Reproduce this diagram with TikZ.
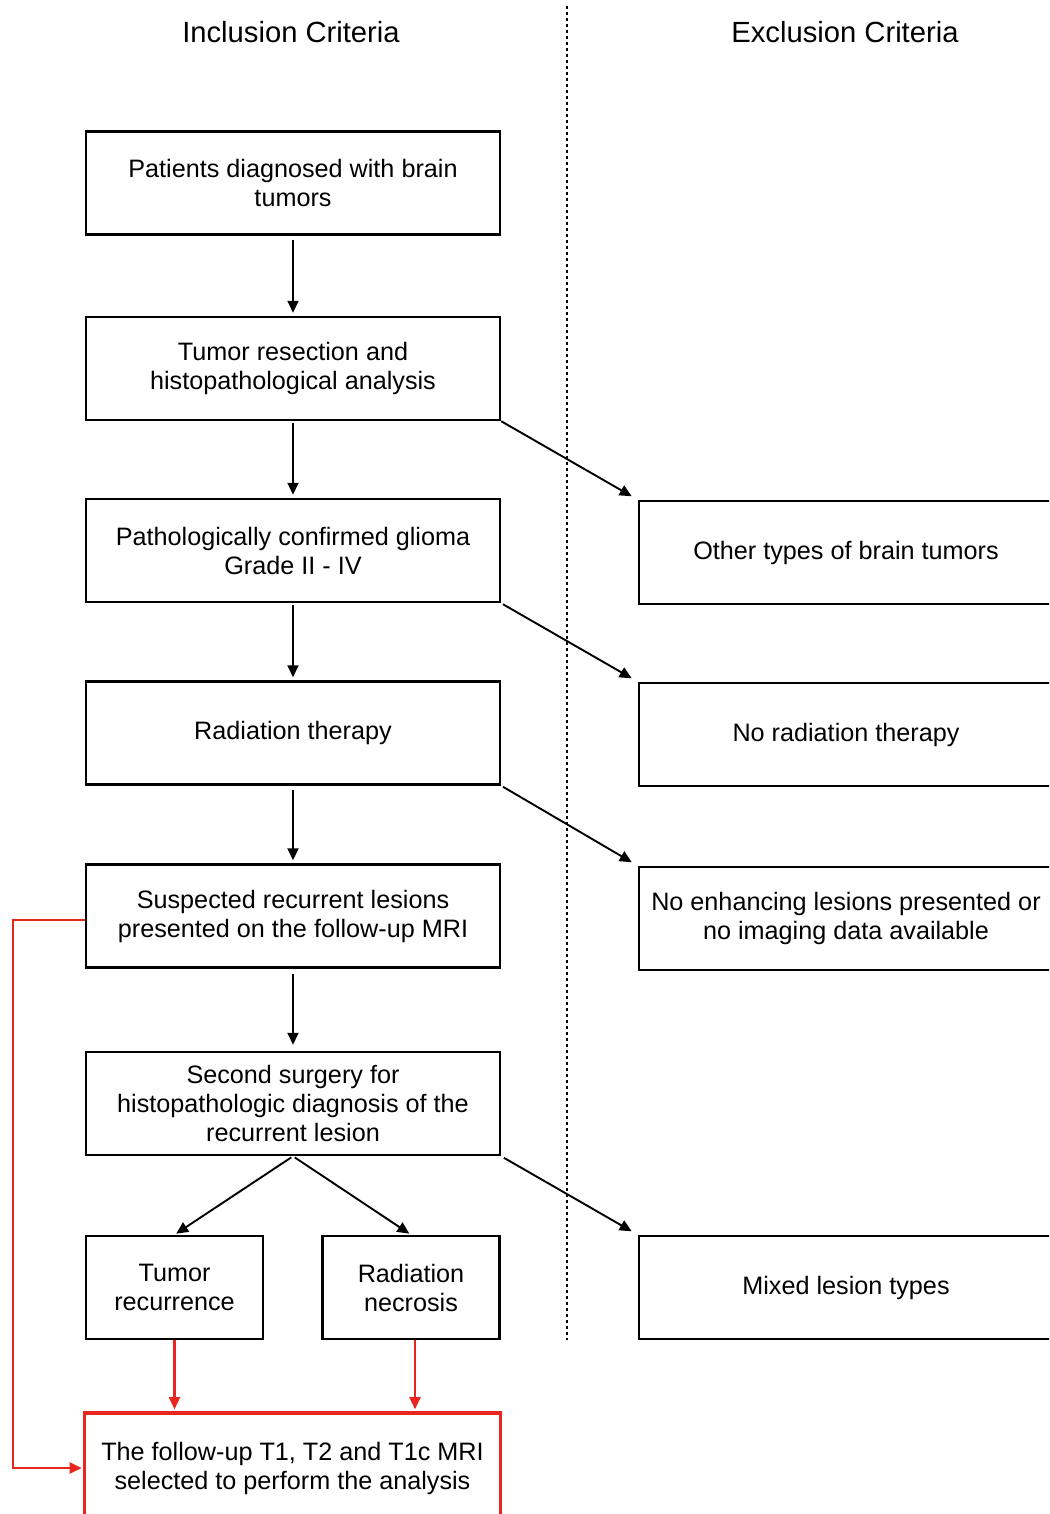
\documentclass[tikz,border=0pt]{standalone}
\usepackage{fontspec}
\setmainfont{Liberation Sans}
\usetikzlibrary{arrows.meta,positioning}
\definecolor{myred}{RGB}{232,38,32}
\tikzset{
  box/.style={draw=black, line width=2.5pt, rectangle, minimum width=414pt, minimum height=103pt, align=center, inner sep=0pt,
    font=\fontsize{25.2}{29}\selectfont},
  smallbox/.style={box, minimum width=177pt},
  redbox/.style={box, draw=myred, line width=3.6pt, minimum width=416pt, minimum height=110pt},
  title/.style={font=\fontsize{29.2}{33}\selectfont, inner sep=0pt},
  arr/.style={draw=black, line width=1.9pt, -{Triangle[length=12pt,width=11pt]}},
  redarr/.style={draw=myred, line width=2.2pt, -{Triangle[length=12pt,width=11pt]}},
  divider/.style={draw=black, line width=2.5pt, dash pattern=on 3pt off 3pt}
}
\begin{document}
\begin{tikzpicture}[x=1pt,y=-1pt]
\useasboundingbox (0,0) rectangle (1049,1514);
\clip (0,0) rectangle (1049,1514);
\fill[white] (0,0) rectangle (1049,1514);

% titles
\node[title] (tin) at (291,32) {Inclusion Criteria};
\node[title] (tex) at (845,32) {Exclusion Criteria};

% divider
\coordinate (dtop) at (567,6);
\coordinate (dbot) at (567,1340);
\draw[divider] (dtop) -- (dbot);

% inclusion boxes
\node[box] (b1) at (293,183) {Patients diagnosed with brain\\tumors};
\node[box] (b2) at (293,368.5) {Tumor resection and\\histopathological analysis};
\node[box] (b3) at (293,550.5) {Pathologically confirmed glioma\\Grade II - IV};
\node[box] (b4) at (293,733) {Radiation therapy};
\node[box] (b5) at (293,916) {Suspected recurrent lesions\\presented on the follow-up MRI};
\node[box] (b6) at (293,1103.5) {Second surgery for\\histopathologic diagnosis of the\\recurrent lesion};
\node[smallbox] (b7a) at (174.5,1287.5) {Tumor\\recurrence};
\node[smallbox] (b7b) at (411,1287.5) {Radiation\\necrosis};
\node[redbox] (res) at (292.5,1468) {The follow-up T1, T2 and T1c MRI\\selected to perform the analysis};

% exclusion boxes
\node[box] (r1) at (846,552.5) {Other types of brain tumors};
\node[box] (r2) at (846,734.5) {No radiation therapy};
\node[box] (r3) at (846,918.5) {No enhancing lesions presented or\\no imaging data available};
\node[box] (r4) at (846,1287.5) {Mixed lesion types};

% vertical arrows
\draw[arr, shorten <=4pt, shorten >=3pt] (b1.south) -- (b2.north);
\draw[arr, shorten <=2pt, shorten >=3pt] (b2.south) -- (b3.north);
\draw[arr, shorten <=2pt, shorten >=3pt] (b3.south) -- (b4.north);
\draw[arr, shorten <=4pt, shorten >=3pt] (b4.south) -- (b5.north);
\draw[arr, shorten <=5pt, shorten >=6pt] (b5.south) -- (b6.north);

% split arrows
\draw[arr, shorten <=2pt, shorten >=2pt] (b6.south) -- (b7a.north);
\draw[arr, shorten <=2pt, shorten >=2pt] (b6.south) -- (b7b.north);

% exclusion arrows
\draw[arr, shorten >=7pt] (b2.south east) -- (r1.north west);
\draw[arr, shorten <=2pt, shorten >=7pt] (b3.south east) -- (r2.north west);
\draw[arr, shorten <=2pt, shorten >=7pt] (b4.south east) -- (r3.north west);
\draw[arr, shorten <=3pt, shorten >=7pt] (b6.south east) -- (r4.north west);

% red arrows
\draw[redarr, shorten >=2pt] (b7a.south) -- (b7a.south |- res.north);
\draw[redarr, shorten >=2pt] ([xshift=4pt]b7b.south) -- ([xshift=4pt]b7b.south |- res.north);
\coordinate (rl) at (13,920);
\draw[redarr, shorten >=1pt] ([yshift=-4pt]b5.west) -- (rl) |- (res.west);
\end{tikzpicture}
\end{document}
